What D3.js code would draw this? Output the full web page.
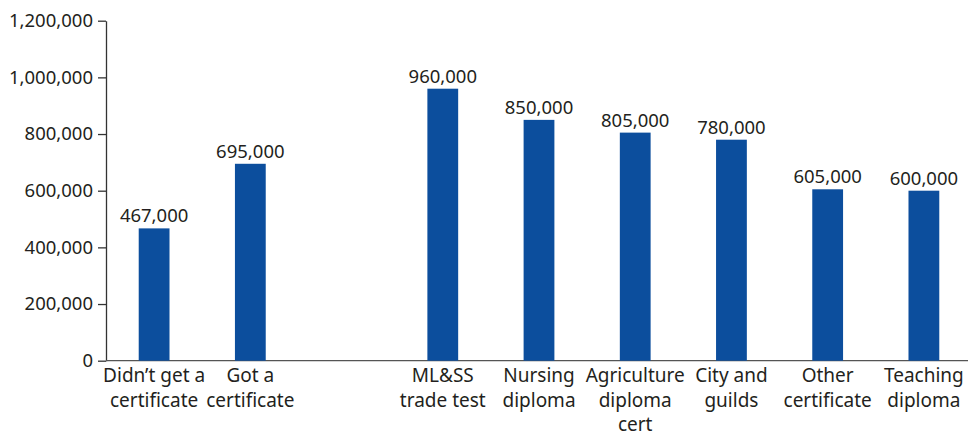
<!DOCTYPE html>
<html>
<head>
<meta charset="utf-8">
<script src="https://cdn.jsdelivr.net/npm/d3@7"></script>
<style>
  body { margin: 0; background: #fff; }
  svg text { font-family: "Noto Sans", sans-serif; fill: #231f20; }
</style>
</head>
<body>
<svg id="chart"></svg>
<script>
// Chart data: categories (line breaks marked with \n), values and y ticks.
// The empty category leaves the gap between the two groups of bars.
const categories = [
  "Didn\u2019t get a\ncertificate",
  "Got a\ncertificate",
  "",
  "ML&SS\ntrade test",
  "Nursing\ndiploma",
  "Agriculture\ndiploma\ncert",
  "City and\nguilds",
  "Other\ncertificate",
  "Teaching\ndiploma"
];
const values = [467000, 695000, null, 960000, 850000, 805000, 780000, 605000, 600000];
const yTicks = [0, 200000, 400000, 600000, 800000, 1000000, 1200000];

const width = 968;
const height = 437;
const margin = { top: 20.7, right: -4, bottom: 76.3, left: 106 };

const svg = d3.select("#chart")
  .attr("width", width)
  .attr("height", height);

const x = d3.scaleBand()
  .domain(categories)
  .range([margin.left, width - margin.right])
  .paddingInner(0.68)
  .paddingOuter(0.34);

const y = d3.scaleLinear()
  .domain([0, 1200000])
  .range([height - margin.bottom, margin.top]);

const fmt = d3.format(",");

// Y axis
const yAxis = svg.append("g")
  .attr("transform", `translate(${margin.left},0)`)
  .call(d3.axisLeft(y).tickValues(yTicks).tickFormat(fmt).tickSize(8).tickSizeOuter(0));
yAxis.select(".domain").attr("stroke", "#333").attr("stroke-width", 1.3);
yAxis.selectAll(".tick line").attr("stroke", "#333").attr("stroke-width", 1.3);
yAxis.selectAll(".tick text")
  .attr("x", -13)
  .attr("font-size", 18.5)
  .attr("fill", "#231f20");

// X axis baseline
svg.append("line")
  .attr("x1", margin.left)
  .attr("x2", width)
  .attr("y1", y(0))
  .attr("y2", y(0))
  .attr("stroke", "#555")
  .attr("stroke-width", 1.3);

// Bars
const data = categories.map((c, i) => ({ cat: c, value: values[i] }))
  .filter(d => d.value !== null);

svg.selectAll(".bar")
  .data(data)
  .enter()
  .append("rect")
  .attr("class", "bar")
  .attr("x", d => x(d.cat))
  .attr("width", x.bandwidth())
  .attr("y", d => y(d.value))
  .attr("height", d => y(0) - y(d.value))
  .attr("fill", "#0c4e9d");

// Value labels above bars
svg.selectAll(".value")
  .data(data)
  .enter()
  .append("text")
  .attr("class", "value")
  .attr("x", d => x(d.cat) + x.bandwidth() / 2)
  .attr("y", d => y(d.value) - 6)
  .attr("text-anchor", "middle")
  .attr("font-size", 18.5)
  .text(d => fmt(d.value));

// Category labels, one tspan per line
const labels = svg.selectAll(".cat")
  .data(categories.filter(c => c !== ""))
  .enter()
  .append("text")
  .attr("class", "cat")
  .attr("text-anchor", "middle")
  .attr("font-size", 19)
  .attr("x", d => x(d) + x.bandwidth() / 2)
  .attr("y", y(0) + 21.5);

labels.selectAll("tspan")
  .data(d => d.split("\n").map(line => ({ line, cx: x(d) + x.bandwidth() / 2 })))
  .enter()
  .append("tspan")
  .attr("x", d => d.cx)
  .attr("dy", (d, i) => i === 0 ? 0 : 24.5)
  .text(d => d.line);
</script>
</body>
</html>
